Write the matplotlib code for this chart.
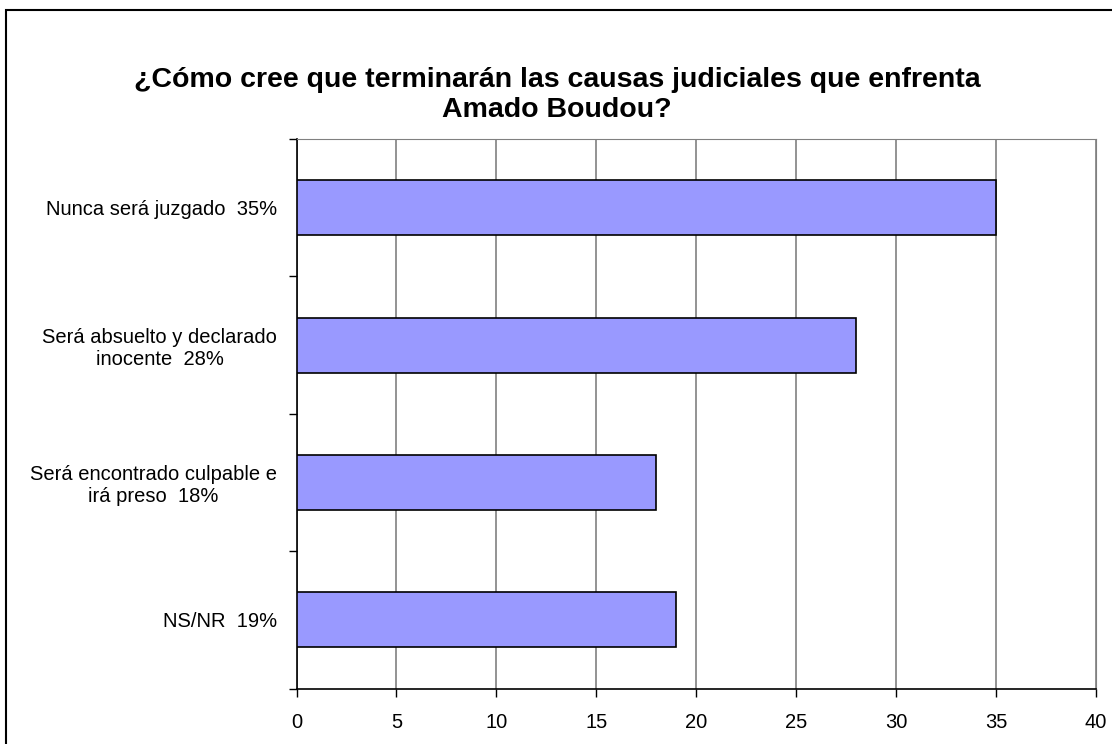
import matplotlib
matplotlib.use("Agg")
import matplotlib.pyplot as plt
from matplotlib.patches import Rectangle

plt.rcParams['font.family'] = ['Liberation Sans', 'DejaVu Sans']

categorias = ["Nunca será juzgado", "Será absuelto y declarado\ninocente",
              "Será encontrado culpable e\nirá preso", "NS/NR"]
valores = [35, 28, 18, 19]
porcentajes = ["35%", "28%", "18%", "19%"]
ticks_x = [0, 5, 10, 15, 20, 25, 30, 35, 40]

etiquetas = [f"{c}  {p}" for c, p in zip(categorias, porcentajes)]

fig = plt.figure(figsize=(11.12, 7.44), dpi=100)
W, H = 1112, 744
ax = fig.add_axes([296.5 / W, 1 - 688.5 / H, (1096 - 296.5) / W, (688.5 - 139) / H])

pos = list(range(len(valores)))[::-1]
ax.barh(pos, valores, height=0.4, color='#9999FF', edgecolor='black', linewidth=1.2, zorder=3)

ax.set_xlim(0, 40)
ax.set_ylim(-0.5, len(valores) - 0.5)
ax.set_xticks(ticks_x)
ax.set_xticklabels([str(t) for t in ticks_x], fontsize=14.5)
ax.set_yticks(pos)
ax.set_yticklabels(etiquetas, fontsize=14.5, ha='right', multialignment='center')
ax.tick_params(axis='y', length=0, pad=14)
ax.set_yticks([p - 0.5 for p in range(len(valores) + 1)], minor=True)
ax.tick_params(axis='y', which='minor', length=6, width=1, direction='out')
ax.tick_params(axis='x', length=6, width=1, direction='out', pad=12)

ax.grid(axis='x', color='#808080', linewidth=1.2, zorder=0)
ax.spines['left'].set_linewidth(1.2)
ax.spines['bottom'].set_linewidth(1.2)
ax.spines['top'].set_color('#808080')
ax.spines['right'].set_color('#808080')

fig.text(557 / W, 1 - 95 / H,
         "¿Cómo cree que terminarán las causas judiciales que enfrenta\nAmado Boudou?",
         ha='center', va='center', fontsize=20.5, fontweight='bold', linespacing=1.19)

fig.patches.append(Rectangle((6 / W, -0.1), 1.2, 1 - 10 / H + 0.1, transform=fig.transFigure,
                             fill=False, edgecolor='black', linewidth=1.5))

fig.savefig("out.png", dpi=100)
